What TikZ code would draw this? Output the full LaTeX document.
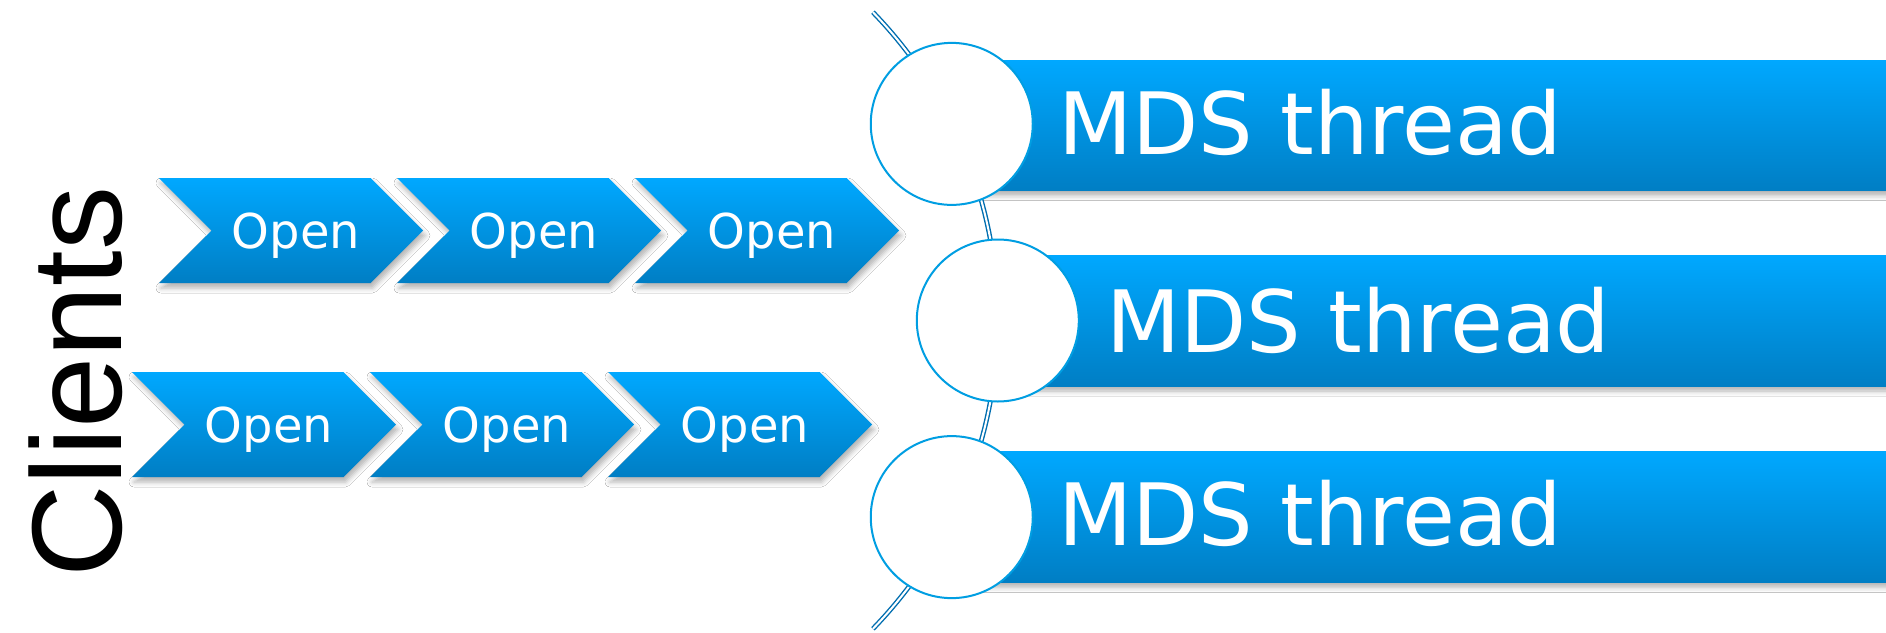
\documentclass[tikz,border=0pt]{standalone}
\usepackage{fontspec}
\newfontfamily\dv{DejaVu Sans}
\newfontfamily\lib{Liberation Sans}
\usetikzlibrary{shadows.blur,calc}
\definecolor{btop}{RGB}{0,168,255}
\definecolor{bbot}{RGB}{0,126,196}
\definecolor{circblue}{RGB}{0,158,226}
\definecolor{arcblue}{RGB}{0,110,176}
\tikzset{
  fillgrad/.style={top color=btop, bottom color=bbot, draw=none},
  shad/.style={blur shadow={shadow xshift=2pt, shadow yshift=-5pt, shadow blur radius=5pt, shadow opacity=30}},
  opentext/.style={font=\dv\fontsize{48}{58}\selectfont, text=white, inner sep=0pt, anchor=base},
  mdstext/.style={font=\dv\fontsize{86}{100}\selectfont, text=white, inner sep=0pt, anchor=base west},
  thread/.style={circle, draw=circblue, line width=2pt, fill=white, minimum size=162pt, inner sep=0pt},
  arcline/.style={draw=arcblue, line width=1.4pt, double=white, double distance=2pt},
}
\begin{document}
\begin{tikzpicture}[x=1pt,y=1pt]
\useasboundingbox (0,0) rectangle (1886,-632);
\fill[white] (0,0) rectangle (1886,-632);
% bars
\path[fillgrad, shad] (951.5,-60) rectangle (1890,-190.7);
\path[fillgrad, shad] (998,-255) rectangle (1890,-386);
\path[fillgrad, shad] (951.5,-451.7) rectangle (1890,-582.3);
% arc and circles
\coordinate (O) at (554.8,-320.5);
\draw[arcline] ($(O)+(44.1:443)$) arc[start angle=44.1, end angle=-44.1, radius=443];
\node[thread] (t1) at ($(O)+(26.35:443)$) {};
\node[thread] (t2) at ($(O)+(0:443)$) {};
\node[thread] (t3) at ($(O)+(-26.35:443)$) {};
\node[mdstext] (m1) at (1058,-154) {MDS thread};
\node[mdstext] (m2) at (1106,-352) {MDS thread};
\node[mdstext] (m3) at (1058,-545.7) {MDS thread};
% chevrons
\foreach \x/\t/\n in {159/178/a1, 397/178/a2, 635/178/a3, 132/372/b1, 370/372/b2, 608/372/b3}{
  \path[fillgrad, shad] (\x,-\t) -- ++(211.5,0) -- ++(52.5,-52.5) -- ++(-52.5,-52.5) -- ++(-211.5,0) -- ++(52.5,52.5) -- cycle;
  \node[opentext] (\n) at (\x+137,-\t-70.5) {Open};
}
% label
\node[font=\lib\fontsize{128}{150}\selectfont, rotate=90, anchor=base, inner sep=0pt] (clients) at (121,-382) {Clients};
\end{tikzpicture}
\end{document}
